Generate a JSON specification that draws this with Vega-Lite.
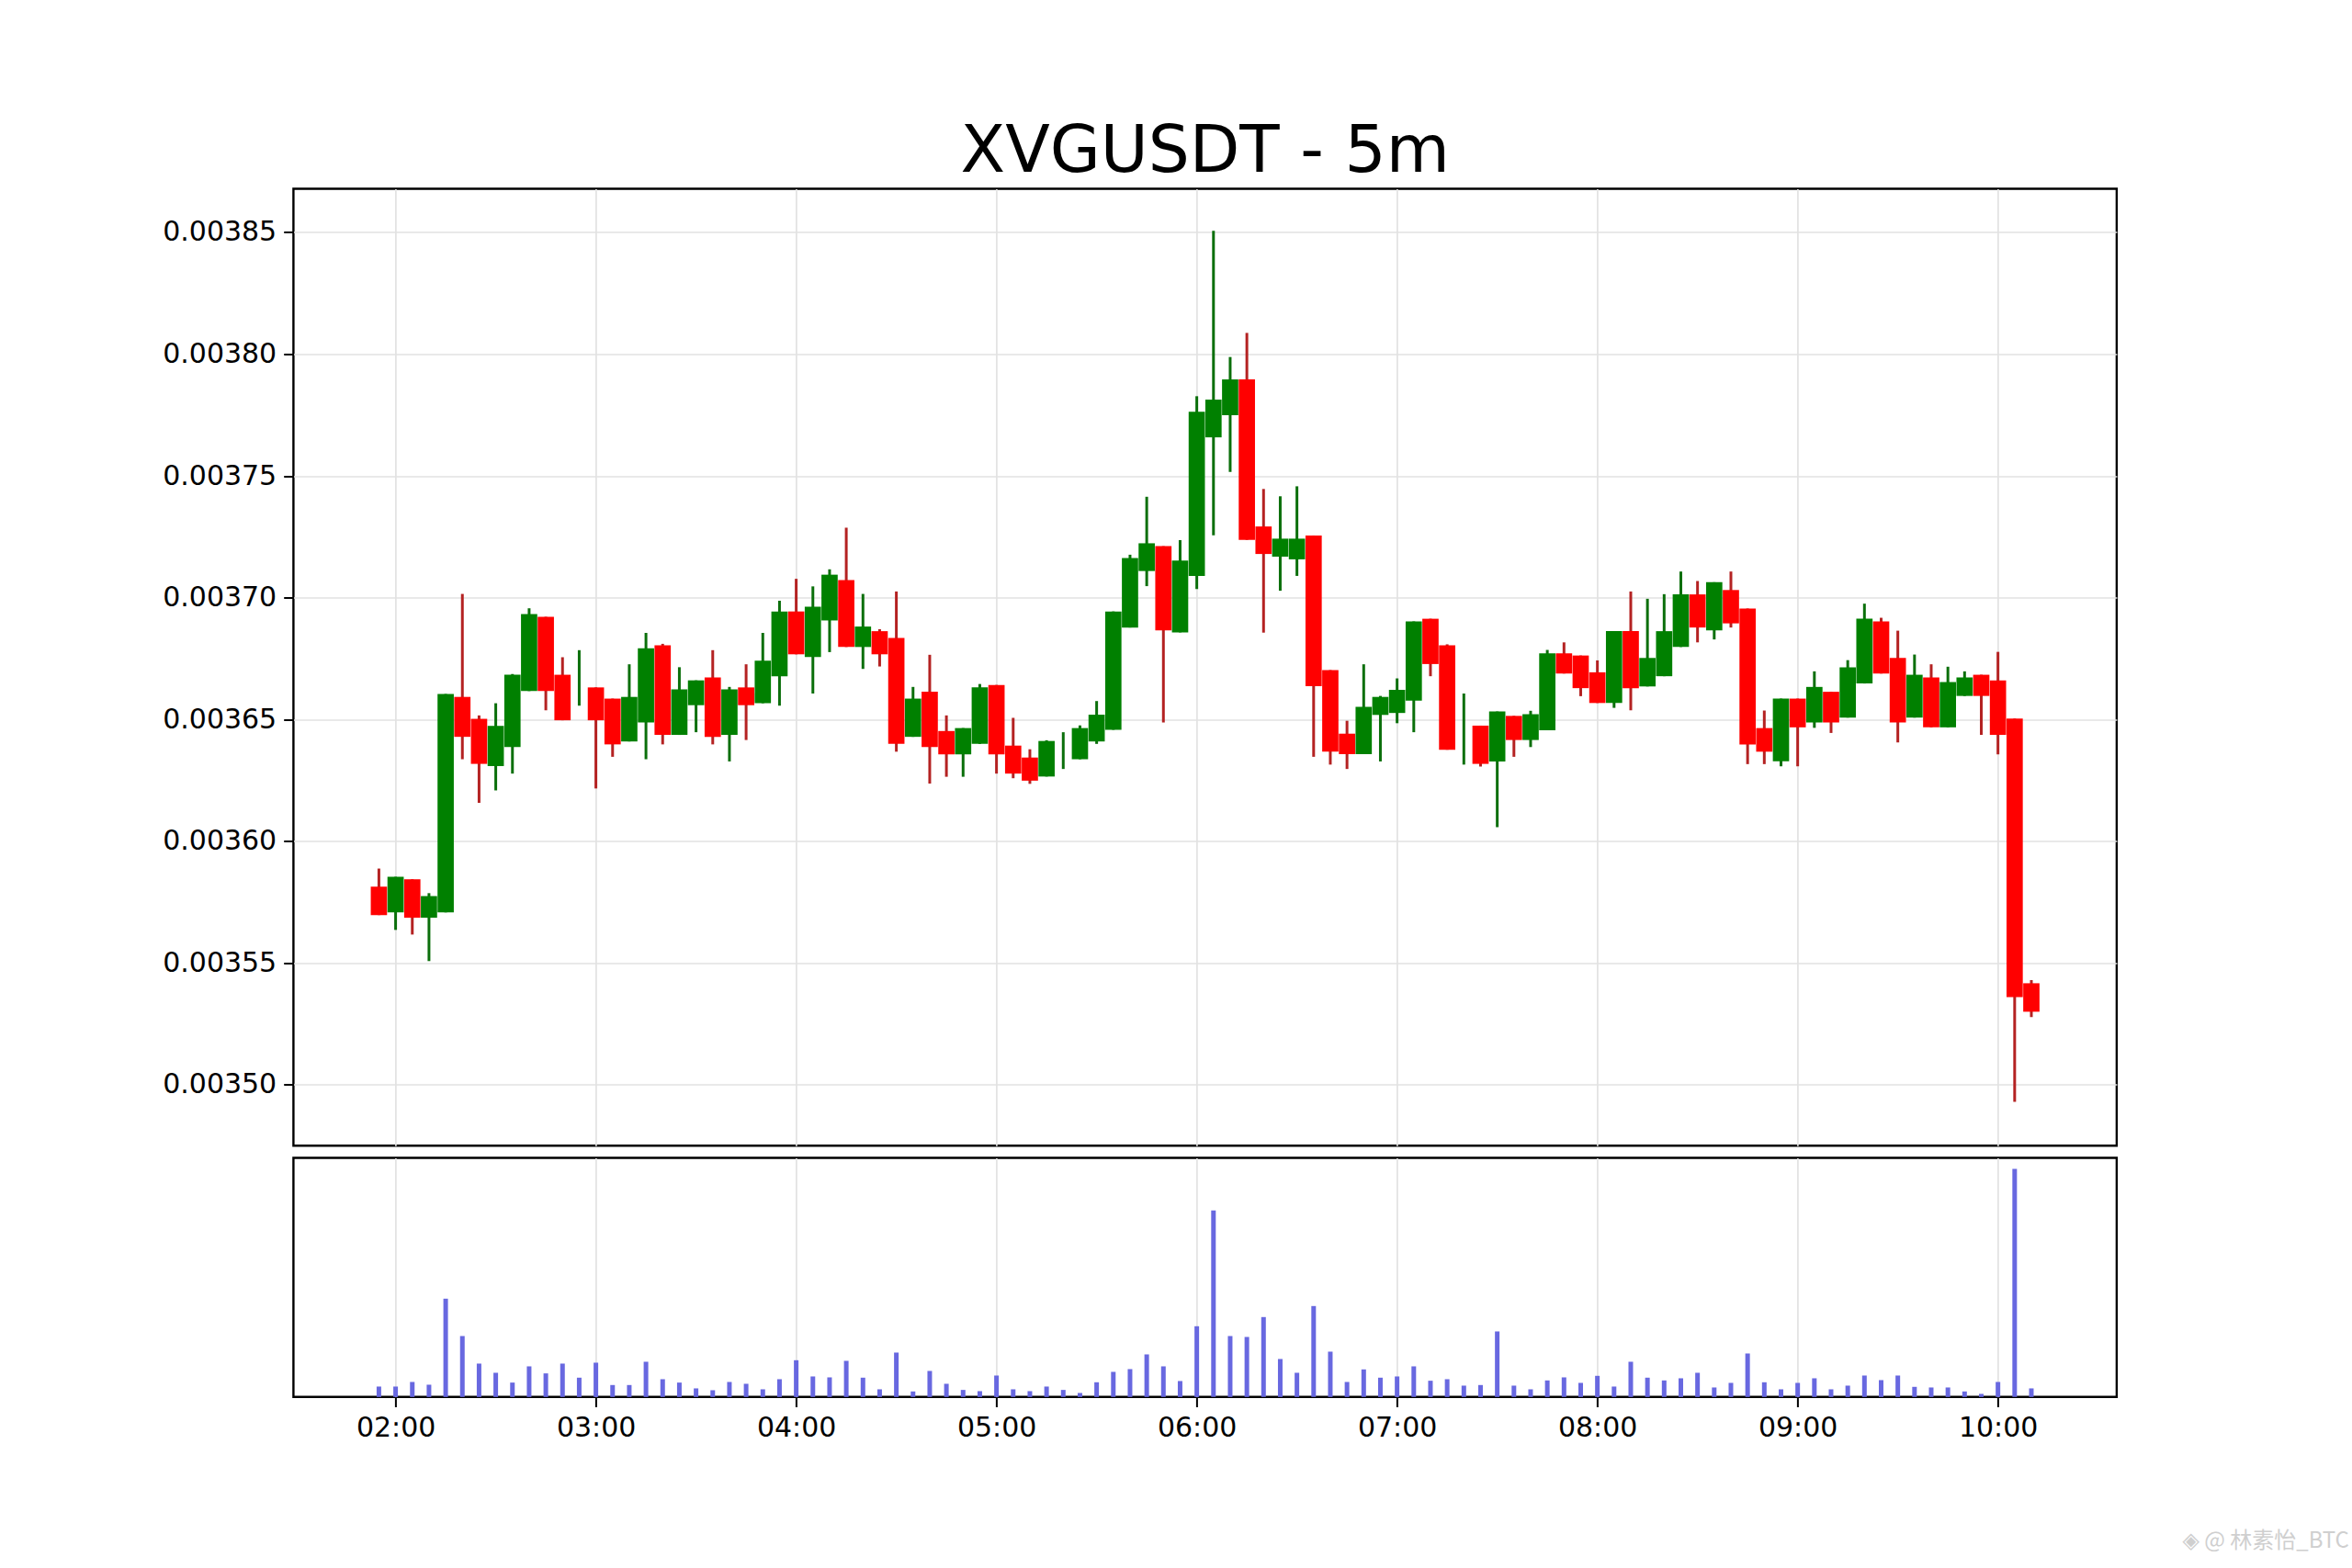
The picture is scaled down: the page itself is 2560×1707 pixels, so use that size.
{
  "$schema": "https://vega.github.io/schema/vega-lite/v6.json",
  "background": "white",
  "padding": {"left": 175.4, "top": 127.5, "right": 0, "bottom": 0},
  "spacing": 10,
  "datasets": {
    "candles": [
      {"time":"2024-01-01T01:55:00Z","open":0.0035813,"high":0.0035887,"low":0.0035696,"close":0.0035696,"volume":34},
      {"time":"2024-01-01T02:00:00Z","open":0.0035707,"high":0.0035853,"low":0.0035635,"close":0.0035853,"volume":34},
      {"time":"2024-01-01T02:05:00Z","open":0.0035843,"high":0.0035843,"low":0.0035616,"close":0.0035685,"volume":49},
      {"time":"2024-01-01T02:10:00Z","open":0.0035685,"high":0.0035786,"low":0.0035507,"close":0.0035774,"volume":40},
      {"time":"2024-01-01T02:15:00Z","open":0.0035707,"high":0.0036604,"low":0.0035707,"close":0.0036604,"volume":321},
      {"time":"2024-01-01T02:20:00Z","open":0.0036592,"high":0.0037015,"low":0.0036336,"close":0.0036428,"volume":199},
      {"time":"2024-01-01T02:25:00Z","open":0.0036502,"high":0.0036516,"low":0.0036157,"close":0.0036317,"volume":109},
      {"time":"2024-01-01T02:30:00Z","open":0.0036308,"high":0.0036566,"low":0.0036208,"close":0.0036473,"volume":79},
      {"time":"2024-01-01T02:35:00Z","open":0.0036386,"high":0.0036686,"low":0.0036277,"close":0.0036683,"volume":47},
      {"time":"2024-01-01T02:40:00Z","open":0.0036616,"high":0.0036956,"low":0.0036616,"close":0.0036932,"volume":100},
      {"time":"2024-01-01T02:45:00Z","open":0.0036921,"high":0.0036921,"low":0.0036537,"close":0.0036616,"volume":77},
      {"time":"2024-01-01T02:50:00Z","open":0.0036683,"high":0.0036755,"low":0.0036496,"close":0.0036496,"volume":109},
      {"time":"2024-01-01T02:55:00Z","open":0.003667,"high":0.0036784,"low":0.0036556,"close":0.003667,"volume":63},
      {"time":"2024-01-01T03:00:00Z","open":0.0036631,"high":0.0036631,"low":0.0036216,"close":0.0036496,"volume":112},
      {"time":"2024-01-01T03:05:00Z","open":0.0036585,"high":0.0036585,"low":0.0036346,"close":0.0036397,"volume":39},
      {"time":"2024-01-01T03:10:00Z","open":0.0036409,"high":0.0036726,"low":0.0036409,"close":0.0036592,"volume":39},
      {"time":"2024-01-01T03:15:00Z","open":0.0036487,"high":0.0036855,"low":0.0036336,"close":0.0036792,"volume":115},
      {"time":"2024-01-01T03:20:00Z","open":0.0036804,"high":0.003681,"low":0.0036397,"close":0.0036436,"volume":58},
      {"time":"2024-01-01T03:25:00Z","open":0.0036436,"high":0.0036714,"low":0.0036436,"close":0.0036623,"volume":47},
      {"time":"2024-01-01T03:30:00Z","open":0.0036558,"high":0.003666,"low":0.0036447,"close":0.003666,"volume":28},
      {"time":"2024-01-01T03:35:00Z","open":0.0036672,"high":0.0036784,"low":0.0036397,"close":0.0036428,"volume":22},
      {"time":"2024-01-01T03:40:00Z","open":0.0036436,"high":0.0036633,"low":0.0036327,"close":0.0036623,"volume":49},
      {"time":"2024-01-01T03:45:00Z","open":0.0036631,"high":0.0036726,"low":0.0036415,"close":0.0036558,"volume":43},
      {"time":"2024-01-01T03:50:00Z","open":0.0036566,"high":0.0036855,"low":0.0036566,"close":0.0036741,"volume":25},
      {"time":"2024-01-01T03:55:00Z","open":0.0036677,"high":0.0036987,"low":0.0036556,"close":0.0036943,"volume":58},
      {"time":"2024-01-01T04:00:00Z","open":0.0036943,"high":0.0037077,"low":0.0036767,"close":0.0036767,"volume":120},
      {"time":"2024-01-01T04:05:00Z","open":0.0036756,"high":0.0037046,"low":0.0036606,"close":0.0036962,"volume":67},
      {"time":"2024-01-01T04:10:00Z","open":0.0036906,"high":0.0037116,"low":0.0036776,"close":0.0037094,"volume":64},
      {"time":"2024-01-01T04:15:00Z","open":0.0037072,"high":0.0037287,"low":0.0036797,"close":0.0036797,"volume":118},
      {"time":"2024-01-01T04:20:00Z","open":0.0036797,"high":0.0037015,"low":0.0036707,"close":0.0036881,"volume":63},
      {"time":"2024-01-01T04:25:00Z","open":0.0036862,"high":0.003687,"low":0.0036717,"close":0.0036767,"volume":25},
      {"time":"2024-01-01T04:30:00Z","open":0.0036834,"high":0.0037025,"low":0.0036367,"close":0.0036399,"volume":145},
      {"time":"2024-01-01T04:35:00Z","open":0.0036428,"high":0.0036633,"low":0.0036428,"close":0.0036585,"volume":18},
      {"time":"2024-01-01T04:40:00Z","open":0.0036613,"high":0.0036765,"low":0.0036236,"close":0.0036386,"volume":85},
      {"time":"2024-01-01T04:45:00Z","open":0.0036452,"high":0.0036516,"low":0.0036264,"close":0.0036356,"volume":43},
      {"time":"2024-01-01T04:50:00Z","open":0.0036356,"high":0.0036464,"low":0.0036264,"close":0.0036464,"volume":23},
      {"time":"2024-01-01T04:55:00Z","open":0.0036399,"high":0.0036645,"low":0.0036399,"close":0.0036631,"volume":19},
      {"time":"2024-01-01T05:00:00Z","open":0.0036641,"high":0.0036641,"low":0.0036277,"close":0.0036356,"volume":70},
      {"time":"2024-01-01T05:05:00Z","open":0.0036392,"high":0.0036506,"low":0.0036258,"close":0.0036277,"volume":25},
      {"time":"2024-01-01T05:10:00Z","open":0.0036343,"high":0.0036377,"low":0.0036235,"close":0.0036248,"volume":19},
      {"time":"2024-01-01T05:15:00Z","open":0.0036265,"high":0.0036414,"low":0.0036265,"close":0.0036411,"volume":34},
      {"time":"2024-01-01T05:20:00Z","open":0.003637,"high":0.0036447,"low":0.0036296,"close":0.003637,"volume":23},
      {"time":"2024-01-01T05:25:00Z","open":0.0036336,"high":0.0036475,"low":0.0036336,"close":0.0036464,"volume":13},
      {"time":"2024-01-01T05:30:00Z","open":0.0036409,"high":0.0036575,"low":0.0036399,"close":0.0036519,"volume":48},
      {"time":"2024-01-01T05:35:00Z","open":0.0036457,"high":0.0036943,"low":0.0036457,"close":0.0036943,"volume":82},
      {"time":"2024-01-01T05:40:00Z","open":0.0036877,"high":0.0037176,"low":0.0036877,"close":0.0037162,"volume":91},
      {"time":"2024-01-01T05:45:00Z","open":0.0037109,"high":0.0037414,"low":0.0037047,"close":0.0037223,"volume":139},
      {"time":"2024-01-01T05:50:00Z","open":0.0037211,"high":0.0037211,"low":0.0036487,"close":0.0036865,"volume":100},
      {"time":"2024-01-01T05:55:00Z","open":0.0036857,"high":0.0037236,"low":0.0036857,"close":0.0037152,"volume":52},
      {"time":"2024-01-01T06:00:00Z","open":0.0037089,"high":0.0037827,"low":0.0037035,"close":0.0037763,"volume":231},
      {"time":"2024-01-01T06:05:00Z","open":0.0037658,"high":0.0038506,"low":0.0037256,"close":0.0037813,"volume":609},
      {"time":"2024-01-01T06:10:00Z","open":0.0037749,"high":0.0037988,"low":0.0037516,"close":0.0037896,"volume":199},
      {"time":"2024-01-01T06:15:00Z","open":0.0037896,"high":0.0038087,"low":0.0037237,"close":0.0037237,"volume":196},
      {"time":"2024-01-01T06:20:00Z","open":0.0037292,"high":0.0037446,"low":0.0036856,"close":0.0037179,"volume":261},
      {"time":"2024-01-01T06:25:00Z","open":0.0037168,"high":0.0037416,"low":0.0037028,"close":0.0037242,"volume":124},
      {"time":"2024-01-01T06:30:00Z","open":0.0037157,"high":0.0037457,"low":0.0037089,"close":0.0037242,"volume":79},
      {"time":"2024-01-01T06:35:00Z","open":0.0037255,"high":0.0037255,"low":0.0036346,"close":0.0036636,"volume":297},
      {"time":"2024-01-01T06:40:00Z","open":0.0036702,"high":0.0036702,"low":0.0036314,"close":0.0036367,"volume":148},
      {"time":"2024-01-01T06:45:00Z","open":0.0036441,"high":0.0036494,"low":0.0036296,"close":0.0036357,"volume":49},
      {"time":"2024-01-01T06:50:00Z","open":0.0036357,"high":0.0036726,"low":0.0036357,"close":0.0036551,"volume":90},
      {"time":"2024-01-01T06:55:00Z","open":0.0036518,"high":0.0036596,"low":0.0036327,"close":0.0036592,"volume":63},
      {"time":"2024-01-01T07:00:00Z","open":0.0036526,"high":0.0036668,"low":0.0036484,"close":0.0036621,"volume":67},
      {"time":"2024-01-01T07:05:00Z","open":0.0036577,"high":0.0036902,"low":0.0036447,"close":0.0036902,"volume":100},
      {"time":"2024-01-01T07:10:00Z","open":0.0036913,"high":0.0036913,"low":0.0036677,"close":0.0036727,"volume":53},
      {"time":"2024-01-01T07:15:00Z","open":0.0036804,"high":0.0036808,"low":0.0036375,"close":0.0036375,"volume":58},
      {"time":"2024-01-01T07:20:00Z","open":0.003645,"high":0.0036606,"low":0.0036314,"close":0.003645,"volume":37},
      {"time":"2024-01-01T07:25:00Z","open":0.0036474,"high":0.0036474,"low":0.0036306,"close":0.0036317,"volume":39},
      {"time":"2024-01-01T07:30:00Z","open":0.0036327,"high":0.0036532,"low":0.0036057,"close":0.0036532,"volume":214},
      {"time":"2024-01-01T07:35:00Z","open":0.0036514,"high":0.0036514,"low":0.0036346,"close":0.0036415,"volume":37},
      {"time":"2024-01-01T07:40:00Z","open":0.0036415,"high":0.0036535,"low":0.0036386,"close":0.0036521,"volume":25},
      {"time":"2024-01-01T07:45:00Z","open":0.0036455,"high":0.0036785,"low":0.0036455,"close":0.0036771,"volume":54},
      {"time":"2024-01-01T07:50:00Z","open":0.0036771,"high":0.0036816,"low":0.0036688,"close":0.0036688,"volume":64},
      {"time":"2024-01-01T07:55:00Z","open":0.0036762,"high":0.0036762,"low":0.0036595,"close":0.0036628,"volume":46},
      {"time":"2024-01-01T08:00:00Z","open":0.0036693,"high":0.0036742,"low":0.0036567,"close":0.0036567,"volume":69},
      {"time":"2024-01-01T08:05:00Z","open":0.0036567,"high":0.0036862,"low":0.0036547,"close":0.0036862,"volume":34},
      {"time":"2024-01-01T08:10:00Z","open":0.0036862,"high":0.0037025,"low":0.0036537,"close":0.0036628,"volume":115},
      {"time":"2024-01-01T08:15:00Z","open":0.0036635,"high":0.0036995,"low":0.0036635,"close":0.0036752,"volume":63},
      {"time":"2024-01-01T08:20:00Z","open":0.0036677,"high":0.0037014,"low":0.0036677,"close":0.0036862,"volume":54},
      {"time":"2024-01-01T08:25:00Z","open":0.0036797,"high":0.0037107,"low":0.0036797,"close":0.0037013,"volume":61},
      {"time":"2024-01-01T08:30:00Z","open":0.0037013,"high":0.0037068,"low":0.0036816,"close":0.0036877,"volume":79},
      {"time":"2024-01-01T08:35:00Z","open":0.0036865,"high":0.0037063,"low":0.0036828,"close":0.0037063,"volume":31},
      {"time":"2024-01-01T08:40:00Z","open":0.0037031,"high":0.0037107,"low":0.0036877,"close":0.0036894,"volume":46},
      {"time":"2024-01-01T08:45:00Z","open":0.0036955,"high":0.0036955,"low":0.0036316,"close":0.0036397,"volume":142},
      {"time":"2024-01-01T08:50:00Z","open":0.0036464,"high":0.0036536,"low":0.0036316,"close":0.0036367,"volume":48},
      {"time":"2024-01-01T08:55:00Z","open":0.0036328,"high":0.0036585,"low":0.0036307,"close":0.0036585,"volume":25},
      {"time":"2024-01-01T09:00:00Z","open":0.0036585,"high":0.0036585,"low":0.0036307,"close":0.0036467,"volume":46},
      {"time":"2024-01-01T09:05:00Z","open":0.0036487,"high":0.0036697,"low":0.0036465,"close":0.0036633,"volume":61},
      {"time":"2024-01-01T09:10:00Z","open":0.0036613,"high":0.0036613,"low":0.0036444,"close":0.0036487,"volume":25},
      {"time":"2024-01-01T09:15:00Z","open":0.0036507,"high":0.0036743,"low":0.0036507,"close":0.0036713,"volume":37},
      {"time":"2024-01-01T09:20:00Z","open":0.0036647,"high":0.0036975,"low":0.0036647,"close":0.0036913,"volume":70},
      {"time":"2024-01-01T09:25:00Z","open":0.0036902,"high":0.0036917,"low":0.0036688,"close":0.0036688,"volume":55},
      {"time":"2024-01-01T09:30:00Z","open":0.0036752,"high":0.0036864,"low":0.0036405,"close":0.0036487,"volume":70},
      {"time":"2024-01-01T09:35:00Z","open":0.0036507,"high":0.0036766,"low":0.0036507,"close":0.0036683,"volume":33},
      {"time":"2024-01-01T09:40:00Z","open":0.0036672,"high":0.0036726,"low":0.0036467,"close":0.0036467,"volume":31},
      {"time":"2024-01-01T09:45:00Z","open":0.0036467,"high":0.0036716,"low":0.0036467,"close":0.0036653,"volume":31},
      {"time":"2024-01-01T09:50:00Z","open":0.0036596,"high":0.0036697,"low":0.0036596,"close":0.0036672,"volume":18},
      {"time":"2024-01-01T09:55:00Z","open":0.0036683,"high":0.0036683,"low":0.0036436,"close":0.0036596,"volume":10},
      {"time":"2024-01-01T10:00:00Z","open":0.003666,"high":0.0036777,"low":0.0036356,"close":0.0036436,"volume":49},
      {"time":"2024-01-01T10:05:00Z","open":0.0036503,"high":0.0036503,"low":0.0034929,"close":0.0035359,"volume":745},
      {"time":"2024-01-01T10:10:00Z","open":0.0035416,"high":0.0035429,"low":0.0035277,"close":0.0035299,"volume":28}
    ]
  },
  "vconcat": [
    {
      "width": 1984.5,
      "height": 1041.7,
      "title": {"text": "XVGUSDT - 5m", "fontSize": 71, "font": "DejaVu Sans", "fontWeight": "normal", "color": "black", "anchor": "middle", "offset": 4},
      "data": {"name": "candles"},
      "encoding": {
        "x": {
          "field": "time",
          "type": "temporal",
          "scale": {"type": "utc", "domain": [1704072564000, 1704105334000], "nice": false, "padding": 0},
          "axis": {"title": null, "labels": false, "ticks": false, "domain": false, "grid": true, "values": [1704074400000, 1704078000000, 1704081600000, 1704085200000, 1704088800000, 1704092400000, 1704096000000, 1704099600000, 1704103200000]}
        }
      },
      "layer": [
        {
          "mark": {"type": "rule", "strokeWidth": 3},
          "encoding": {
            "y": {
              "field": "low",
              "type": "quantitative",
              "scale": {"domain": [0.0034749, 0.0038679], "nice": false, "zero": false},
              "axis": {"title": null, "values": [0.0035, 0.00355, 0.0036, 0.00365, 0.0037, 0.00375, 0.0038, 0.00385], "format": ".5f", "domain": false, "grid": true}
            },
            "y2": {"field": "high"},
            "color": {"condition": {"test": "datum.open <= datum.close", "value": "#0b6f0b"}, "value": "#b42222"}
          }
        },
        {
          "mark": {"type": "bar", "size": 17.7},
          "encoding": {
            "y": {"field": "open", "type": "quantitative"},
            "y2": {"field": "close"},
            "color": {"condition": {"test": "datum.open <= datum.close", "value": "green"}, "value": "red"}
          }
        }
      ]
    },
    {
      "width": 1984.5,
      "height": 260.3,
      "encoding": {
        "x": {
          "field": "time",
          "type": "temporal",
          "scale": {"type": "utc", "domain": [1704072564000, 1704105334000], "nice": false, "padding": 0},
          "axis": {"title": null, "labelExpr": "utcFormat(datum.value, '%H:%M')", "domain": false, "grid": true, "values": [1704074400000, 1704078000000, 1704081600000, 1704085200000, 1704088800000, 1704092400000, 1704096000000, 1704099600000, 1704103200000], "labelFlush": false}
        },
        "y": {
          "field": "volume",
          "type": "quantitative",
          "scale": {"domain": [0, 781], "nice": false},
          "axis": null
        }
      },
      "layer": [
        {
          "data": {"name": "candles"},
          "mark": {"type": "bar", "size": 5, "color": "#6868e0"}
        },
        {
          "data": {"values": [{"time": "2024-01-01T11:45:10Z", "volume": -473, "label": "◈ @ 林素怡_BTC"}]},
          "mark": {"type": "text", "align": "right", "baseline": "middle", "font": "Noto Sans CJK SC, DejaVu Sans", "fontSize": 24, "color": "#cfcfcf"},
          "encoding": {"text": {"field": "label"}}
        }
      ]
    }
  ],
  "config": {
    "view": {"stroke": "black", "strokeWidth": 2.4},
    "axis": {
      "gridColor": "#e2e2e2",
      "gridWidth": 1.7,
      "gridOpacity": 1,
      "tickColor": "black",
      "tickWidth": 2,
      "tickSize": 10.7,
      "labelColor": "black",
      "labelFont": "DejaVu Sans",
      "labelFontSize": 30,
      "labelPadding": 8
    }
  }
}
